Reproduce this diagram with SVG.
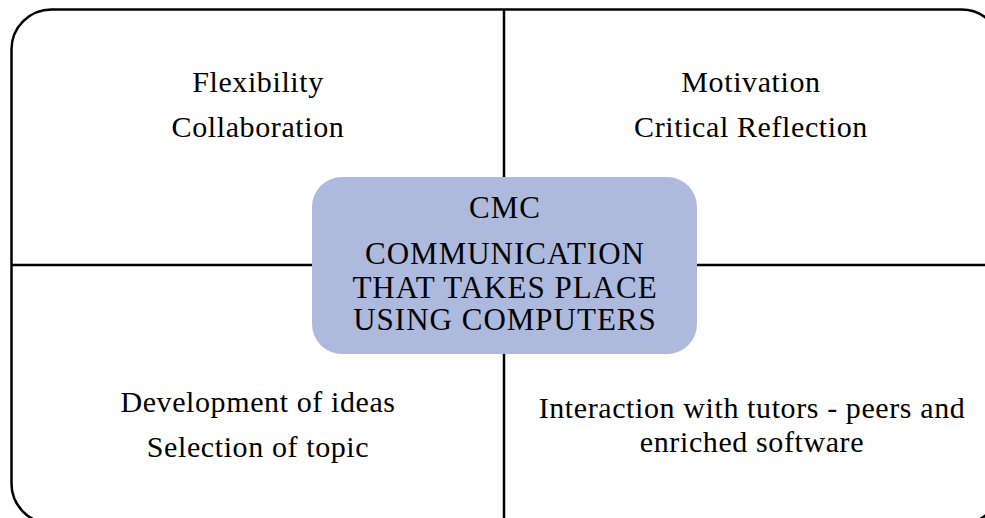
<svg xmlns="http://www.w3.org/2000/svg" width="985" height="518" viewBox="0 0 985 518">
<style>
.t{font-family:"Liberation Serif","Times New Roman",serif;font-size:30px;letter-spacing:0.6px;fill:#000;text-anchor:middle}
.c{font-size:31px;letter-spacing:1px}
.ln{stroke:#000;stroke-width:2.5;fill:none}
</style>
<rect width="985" height="518" fill="#fff"/>
<g id="connectors">
<rect class="ln" x="11.5" y="9.5" width="990" height="514" rx="40" ry="40"/>
<line class="ln" x1="504" y1="9.5" x2="504" y2="518"/>
<line class="ln" x1="11.5" y1="265" x2="1002" y2="265"/>
</g>
<g id="q1">
<text class="t" x="258" y="92">Flexibility</text>
<text class="t" x="258" y="137">Collaboration</text>
</g>
<g id="q2">
<text class="t" x="751" y="92">Motivation</text>
<text class="t" x="751" y="137">Critical Reflection</text>
</g>
<g id="q3">
<text class="t" x="258" y="412">Development of ideas</text>
<text class="t" x="258" y="457">Selection of topic</text>
</g>
<g id="q4">
<text class="t" x="752" y="418">Interaction with tutors - peers and</text>
<text class="t" x="752" y="452">enriched software</text>
</g>
<g id="center">
<rect x="312" y="177" width="385" height="177" rx="30" ry="30" fill="#adbadd"/>
<text class="t c" x="505" y="218">CMC</text>
<text class="t c" x="505" y="264">COMMUNICATION</text>
<text class="t c" x="505" y="298">THAT TAKES PLACE</text>
<text class="t c" x="505" y="330">USING COMPUTERS</text>
</g>
</svg>
